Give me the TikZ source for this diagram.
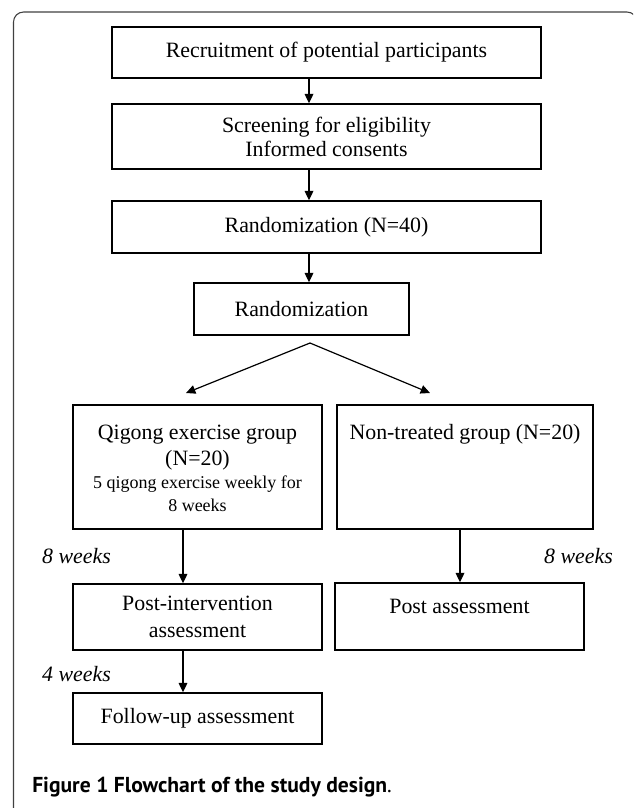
\documentclass[tikz,border=0pt]{standalone}
\usepackage{fontspec}
\setmainfont{Liberation Serif}
\newfontfamily\capfont{PT Sans}
\usepackage{tikz}
\usetikzlibrary{arrows.meta, positioning, calc}

\def\pxu{0.75pt}

\begin{document}
\begin{tikzpicture}[
  x=0.75pt, y=-0.75pt,
  flowbox/.style={
    rectangle, draw=black, line width=1.1pt,
    align=center, inner sep=2pt,
    font=\fontsize{16.4}{20}\selectfont},
  widebox/.style={flowbox, minimum width=429*\pxu},
  grpbox/.style={flowbox, minimum width=249*\pxu},
  boxtext/.style={
    align=center, inner sep=0pt,
    font=\fontsize{16.4}{20}\selectfont},
  wklbl/.style={font=\fontsize{16.4}{20}\selectfont\itshape, inner sep=0pt},
  arrowmain/.style={-{Triangle[length=7pt, width=6.5pt]}, line width=0.9pt},
  frameline/.style={draw=black!75, line width=0.8pt, rounded corners=7.5pt},
  captext/.style={font=\capfont\fontsize{16.2}{19}\selectfont, inner sep=0pt},
]
\useasboundingbox (0,0) rectangle (633,808);
\clip (0,0) rectangle (633,808);

%% ---- Outer frame ----
\draw[frameline] (13.5,816) -- (13.5,12) -- (637,12) -- (637,816);

%% ---- Main pipeline (vertical) ----
\node[widebox, minimum height=51*\pxu] (recruit) at (326.5,52.5)
  {Recruitment of potential participants};
\node[widebox, minimum height=65*\pxu] (screen) at (326.5,136.5)
  {Screening for eligibility\\[-2pt] Informed consents};
\node[widebox, minimum height=52*\pxu] (rand40) at (326.5,227)
  {Randomization (N=40)};
\node[flowbox, minimum width=215*\pxu, minimum height=52*\pxu] (rand) at (301.5,309)
  {Randomization};

%% ---- Two arms ----
\node[grpbox, minimum height=124*\pxu] (qigong) at (197.5,467) {};
\node[boxtext, below=15pt of qigong.north] (qigongtxt) {%
  Qigong exercise group\\(N=20)\\[-3pt]
  {\fontsize{13.5}{16.5}\selectfont 5 qigong exercise weekly for}\\[-3pt]
  {\fontsize{13.5}{16.5}\selectfont 8 weeks}};

\node[flowbox, minimum width=256*\pxu, minimum height=124*\pxu] (nontreat) at (465,467) {};
\node[boxtext, below=14.5pt of nontreat.north] (nontreattxt)
  {Non-treated group (N=20)};

\node[grpbox, minimum height=66*\pxu] (postint) at (197.5,617)
  {Post-intervention\\assessment};
\node[grpbox, minimum height=67*\pxu] (postass) at (459.5,616.5) {};
\node[boxtext, below=12.5pt of postass.north] (postasstxt) {Post assessment};

\node[grpbox, minimum height=51*\pxu] (follow) at (197.5,718.5)
  {Follow-up assessment};

%% ---- Arrow lanes ----
\coordinate (spine) at (309,0);
\coordinate (laneL) at (183,0);
\coordinate (laneR) at (460,0);
\coordinate (split) at (310,343);
\coordinate (splitL) at (186,393);
\coordinate (splitR) at (430,393);

\draw[arrowmain] (recruit.south -| spine) -- (screen.north -| spine);
\draw[arrowmain] (screen.south -| spine) -- (rand40.north -| spine);
\draw[arrowmain] (rand40.south -| spine) -- (rand.north -| spine);
\draw[arrowmain] (split) -- (splitL);
\draw[arrowmain] (split) -- (splitR);
\draw[arrowmain] (qigong.south -| laneL) -- (postint.north -| laneL);
\draw[arrowmain] (nontreat.south -| laneR) -- (postass.north -| laneR);
\draw[arrowmain] (postint.south -| laneL) -- (follow.north -| laneL);

%% ---- Time labels ----
\node[wklbl] (wkL) at (76.5,556) {8 weeks};
\node[wklbl] (wkR) at (578.5,556) {8 weeks};
\node[wklbl] (wkF) at (76.5,674) {4 weeks};

%% ---- Caption ----
\node[captext, anchor=west] (caption) at (32,787)
  {\textbf{Figure 1 Flowchart of the study design}.};

\end{tikzpicture}
\end{document}
